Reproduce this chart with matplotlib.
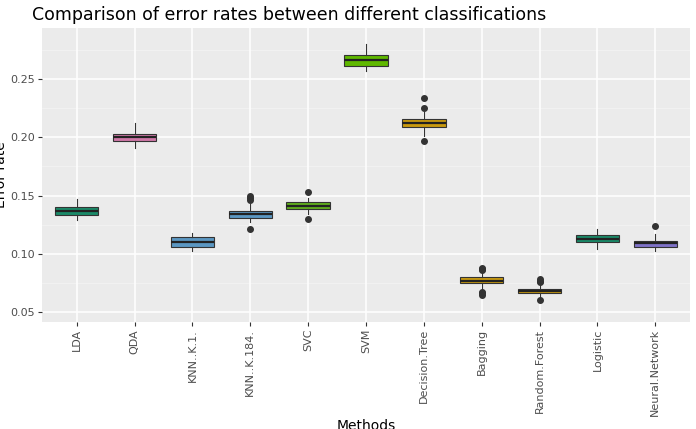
import matplotlib.pyplot as plt

methods = ["LDA", "QDA", "KNN..K.1.", "KNN..K.184.", "SVC", "SVM", "Decision.Tree",
           "Bagging", "Random.Forest", "Logistic", "Neural.Network"]
q1 = [0.133, 0.197, 0.106, 0.131, 0.138, 0.261, 0.209, 0.075, 0.066, 0.110, 0.106]
med = [0.137, 0.200, 0.110, 0.134, 0.141, 0.266, 0.212, 0.077, 0.068, 0.113, 0.109]
q3 = [0.140, 0.203, 0.114, 0.137, 0.144, 0.271, 0.216, 0.080, 0.070, 0.116, 0.111]
wlo = [0.129, 0.191, 0.102, 0.127, 0.134, 0.257, 0.201, 0.070, 0.063, 0.104, 0.102]
whi = [0.147, 0.212, 0.118, 0.143, 0.148, 0.280, 0.222, 0.084, 0.074, 0.121, 0.117]
fliers = [[], [], [], [0.150, 0.148, 0.146, 0.121], [0.153, 0.130], [],
          [0.234, 0.225, 0.197], [0.088, 0.087, 0.086, 0.067, 0.066, 0.065],
          [0.078, 0.077, 0.076, 0.060], [], [0.124]]
colors = ["#1a8a68", "#d078a8", "#5b97c2", "#5b97c2", "#5fae1c", "#5fb800", "#c99a10",
          "#c99a10", "#c99a10", "#1a8a68", "#7f72c8"]

stats = []
for i in range(len(methods)):
    stats.append(dict(med=med[i], q1=q1[i], q3=q3[i], whislo=wlo[i], whishi=whi[i], fliers=fliers[i]))

fig = plt.figure(figsize=(6.96, 4.29), dpi=100)
ax = fig.add_axes([42/696, 1-322/429, 648/696, 294/429])
ax.set_facecolor("#EBEBEB")
ax.grid(True, color="white", linewidth=1.1)
ax.set_axisbelow(True)
for y in [0.075, 0.125, 0.175, 0.225, 0.275]:
    ax.axhline(y, color="#F5F5F5", linewidth=0.5, zorder=0)
for s in ax.spines.values():
    s.set_visible(False)

pos = list(range(1, len(methods) + 1))
bp = ax.bxp(stats, positions=pos, widths=0.75, patch_artist=True,
            boxprops=dict(edgecolor="#333333", linewidth=0.8),
            medianprops=dict(color="#222222", linewidth=1.6),
            whiskerprops=dict(color="#333333", linewidth=0.8),
            capprops=dict(linewidth=0),
            flierprops=dict(marker="o", markerfacecolor="#333333", markeredgecolor="#333333", markersize=4))
for patch, c in zip(bp["boxes"], colors):
    patch.set_facecolor(c)

ax.set_xlim(0.4, len(methods) + 0.6)
ax.set_ylim(0.0414, 0.2938)
ax.set_yticks([0.05, 0.10, 0.15, 0.20, 0.25])
ax.set_yticklabels(["0.05", "0.10", "0.15", "0.20", "0.25"])
ax.set_xticks(pos)
ax.set_xticklabels(methods, rotation=90)
ax.tick_params(colors="#4D4D4D", labelsize=8, length=3, pad=2)
ax.tick_params(axis="both", color="#333333")
ax.set_xlabel("Methods", fontsize=10, labelpad=2)
ax.set_ylabel("Error rate", fontsize=10, labelpad=2)
ax.set_title("Comparison of error rates between different classifications", fontsize=12.5, loc="left", x=-0.015)
fig.savefig("out.png", dpi=100)
